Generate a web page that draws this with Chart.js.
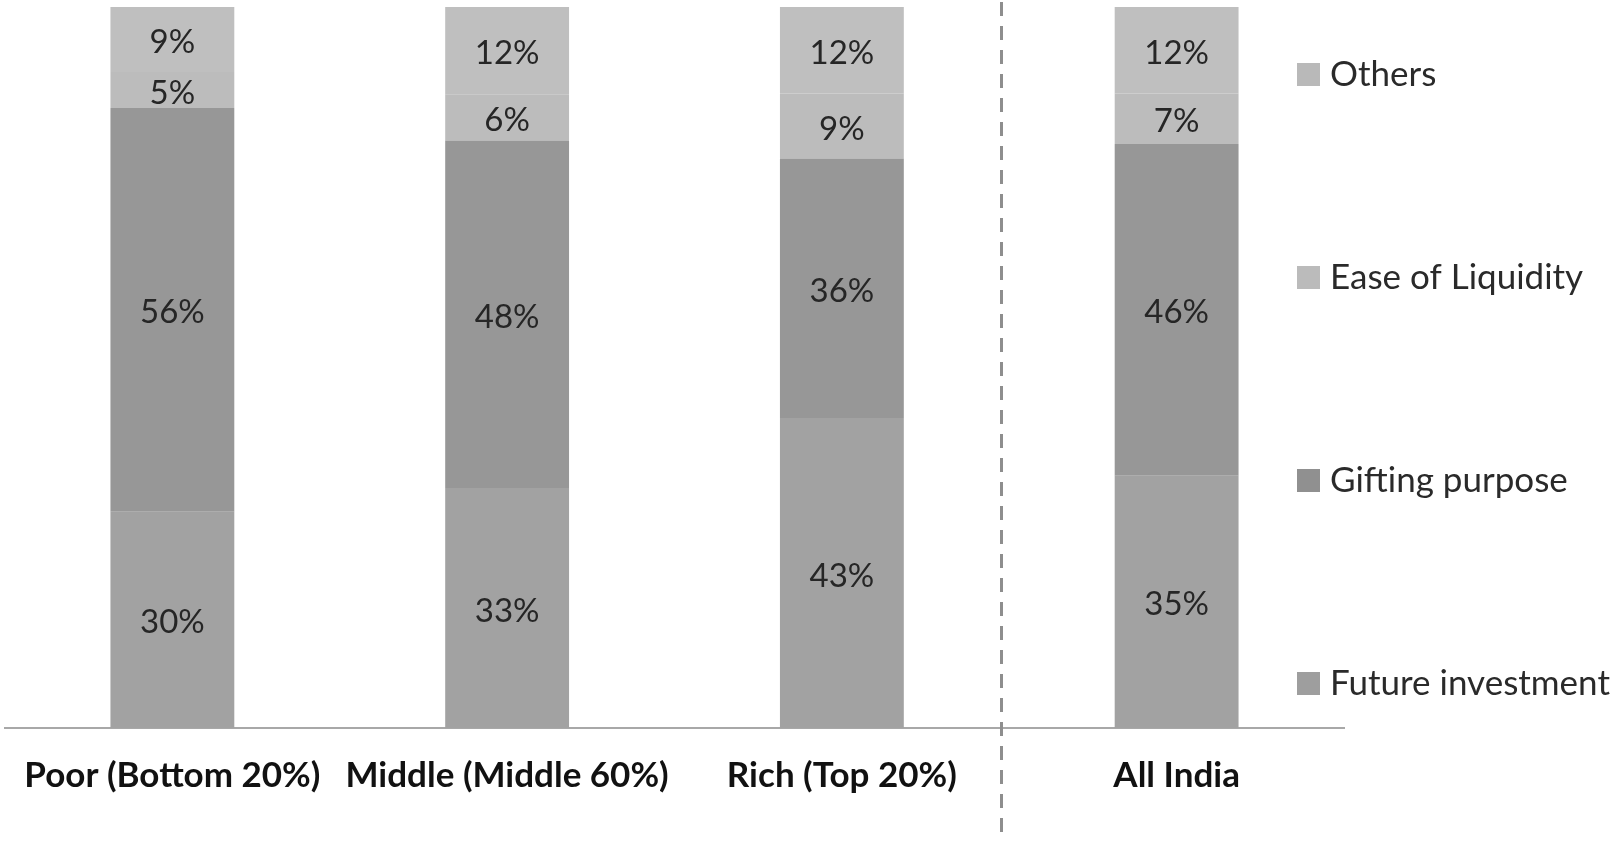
<!DOCTYPE html>
<html>
<head>
<meta charset="utf-8">
<script src="https://cdn.jsdelivr.net/npm/chart.js@4.4.1/dist/chart.umd.min.js"></script>
<style>
  html, body { margin: 0; padding: 0; background: #fff; }
  #wrap { width: 1619px; height: 841px; }
</style>
</head>
<body>
<div id="wrap"><canvas id="barchart" width="1619" height="841"></canvas></div>
<script>
// categories and series (percent shares)
const categories = ['Poor (Bottom 20%)', 'Middle (Middle 60%)', 'Rich (Top 20%)', 'All India'];
const futureInvestment = [30, 33.3, 43, 35];
const giftingPurpose = [56, 48.2, 36, 46];
const easeOfLiquidity = [5, 6.4, 9, 7];
const others = [9, 12.1, 12, 12];

const FONT = 'Lato';

// dashed separator between "Rich" and "All India"
const dividerLine = {
  id: 'dividerLine',
  afterDraw(chart) {
    const ctx = chart.ctx;
    const x = Math.round(chart.scales.x.getPixelForValue(2.475)) + 0.5;
    ctx.save();
    ctx.strokeStyle = '#8e8e8e';
    ctx.lineWidth = 3;
    ctx.setLineDash([14, 10]);
    ctx.beginPath();
    ctx.moveTo(x, 2);
    ctx.lineTo(x, chart.height);
    ctx.stroke();
    ctx.restore();
  }
};

// value labels centred in every segment
const segmentLabels = {
  id: 'segmentLabels',
  afterDatasetsDraw(chart) {
    const ctx = chart.ctx;
    ctx.save();
    ctx.font = '33px ' + FONT;
    ctx.fillStyle = '#262626';
    ctx.textAlign = 'center';
    ctx.textBaseline = 'middle';
    chart.data.datasets.forEach((ds, i) => {
      chart.getDatasetMeta(i).data.forEach((bar, j) => {
        const y = (bar.y + bar.base) / 2 + 3;
        ctx.fillText(Math.round(ds.data[j]) + '%', bar.x, y);
      });
    });
    ctx.restore();
  }
};

// legend on the right, spread over the plot height, top item = last series
const sideLegend = {
  id: 'sideLegend',
  afterDraw(chart) {
    const ctx = chart.ctx;
    const area = chart.chartArea;
    const items = chart.data.datasets.slice().reverse();
    const top = area.top + 67;
    const step = 203;
    ctx.save();
    ctx.font = '35px ' + FONT;
    ctx.textBaseline = 'middle';
    ctx.textAlign = 'left';
    items.forEach((ds, i) => {
      const y = top + i * step;
      ctx.fillStyle = ds.legendColor;
      ctx.fillRect(area.right - 47, y - 11, 23, 23);
      ctx.fillStyle = '#2a2a2a';
      ctx.fillText(ds.label, area.right - 14, y + 1);
    });
    ctx.restore();
  }
};

document.addEventListener('DOMContentLoaded', function() {
  var ctx = document.getElementById('barchart').getContext('2d');
  var myChart = new Chart(ctx, {
    type: 'bar',
    data: {
      labels: categories,
      datasets: [
        { label: 'Future investment', data: futureInvestment, backgroundColor: '#a2a2a2', legendColor: '#9e9e9e' },
        { label: 'Gifting purpose', data: giftingPurpose, backgroundColor: '#979797', legendColor: '#909090' },
        { label: 'Ease of Liquidity', data: easeOfLiquidity, backgroundColor: '#bcbcbc', legendColor: '#bbbbbb' },
        { label: 'Others', data: others, backgroundColor: '#bfbfbf', legendColor: '#b9b9b9' }
      ]
    },
    options: {
      responsive: false,
      animation: false,
      layout: { padding: { left: 5, right: 275, top: 7, bottom: 0 } },
      datasets: {
        bar: { barPercentage: 0.37, categoryPercentage: 1, borderWidth: 0 }
      },
      plugins: {
        legend: { display: false },
        tooltip: { enabled: false }
      },
      scales: {
        x: {
          stacked: true,
          grid: { display: false },
          border: { display: true, color: '#a8a8a8', width: 2 },
          ticks: {
            color: '#111',
            padding: 19,
            maxRotation: 0,
            autoSkip: false,
            font: { family: FONT, size: 35, weight: 'bold' }
          },
          afterFit(scale) { scale.height = 113; }
        },
        y: {
          stacked: true,
          display: false,
          min: 0,
          max: 100
        }
      }
    },
    plugins: [segmentLabels, dividerLine, sideLegend]
  });
});
</script>
</body>
</html>
